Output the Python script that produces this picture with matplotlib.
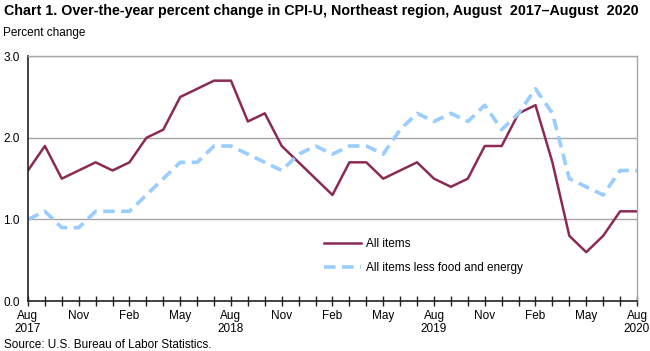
import matplotlib
matplotlib.use("Agg")
import matplotlib.pyplot as plt

plt.rcParams['font.family'] = ['Liberation Sans', 'DejaVu Sans']

months = ["Aug", "Sep", "Oct", "Nov", "Dec", "Jan", "Feb", "Mar", "Apr", "May", "Jun", "Jul"] * 3 + ["Aug"]
all_items = [1.6, 1.9, 1.5, 1.6, 1.7, 1.6, 1.7, 2.0, 2.1, 2.5, 2.6, 2.7,
             2.7, 2.2, 2.3, 1.9, 1.7, 1.5, 1.3, 1.7, 1.7, 1.5, 1.6, 1.7,
             1.5, 1.4, 1.5, 1.9, 1.9, 2.3, 2.4, 1.7, 0.8, 0.6, 0.8, 1.1, 1.1]
core = [1.0, 1.1, 0.9, 0.9, 1.1, 1.1, 1.1, 1.3, 1.5, 1.7, 1.7, 1.9,
        1.9, 1.8, 1.7, 1.6, 1.8, 1.9, 1.8, 1.9, 1.9, 1.8, 2.1, 2.3,
        2.2, 2.3, 2.2, 2.4, 2.1, 2.3, 2.6, 2.3, 1.5, 1.4, 1.3, 1.6, 1.6]
tick_labels = ["Aug\n2017", "Nov", "Feb", "May", "Aug\n2018", "Nov", "Feb", "May",
               "Aug\n2019", "Nov", "Feb", "May", "Aug\n2020"]
y_ticks = [0.0, 1.0, 2.0, 3.0]

fig = plt.figure(figsize=(6.5, 3.51), dpi=100)
ax = fig.add_axes([0.043, 0.142, 0.937, 0.698])

x = list(range(len(all_items)))
ax.plot(x, all_items, color='#8b2a55', lw=1.8, label='All items')
ax.plot(x, core, color='#99ccff', lw=2.6, ls=(0, (3.2, 1.8)), label='All items less food and energy')

ax.set_xlim(0, len(x) - 1)
ax.set_ylim(0, 3.0)
ax.set_yticks(y_ticks)
ax.set_yticklabels([f"{v:.1f}" for v in y_ticks], fontsize=8.5)
for v in y_ticks[1:]:
    ax.axhline(v, color='#a6a6a6', lw=1.0, zorder=0)
ax.tick_params(axis='y', length=0, pad=6)

labels = []
j = 0
for i in x:
    if i % 3 == 0:
        labels.append(tick_labels[j])
        j += 1
    else:
        labels.append("")
ax.set_xticks(x)
ax.set_xticklabels(labels, fontsize=8.5, linespacing=1.05, va='top')
ax.tick_params(axis='x', which='major', direction='inout', length=7, width=1, color='#222222', pad=3)

for s in ['top', 'right']:
    ax.spines[s].set_color('#a6a6a6')
    ax.spines[s].set_linewidth(1.0)
ax.spines['left'].set_color('#222222')
ax.spines['bottom'].set_color('#222222')
ax.spines['left'].set_linewidth(1.2)
ax.spines['bottom'].set_linewidth(1.2)

ax.legend(loc='upper left', bbox_to_anchor=(0.468, 0.3), frameon=False, fontsize=8.5,
          handlelength=3.2, labelspacing=1.0, handletextpad=0.4)

fig.text(0.006, 0.99, "Chart 1. Over-the-year percent change in CPI-U, Northeast region, August  2017\u2013August  2020",
         fontsize=10.3, fontweight='bold', va='top', ha='left')
fig.text(0.004, 0.905, "Percent change", fontsize=8.5, va='center', ha='left')
fig.text(0.006, 0.018, "Source: U.S. Bureau of Labor Statistics.", fontsize=8.5, va='center', ha='left')

fig.savefig("out.png", dpi=100)
